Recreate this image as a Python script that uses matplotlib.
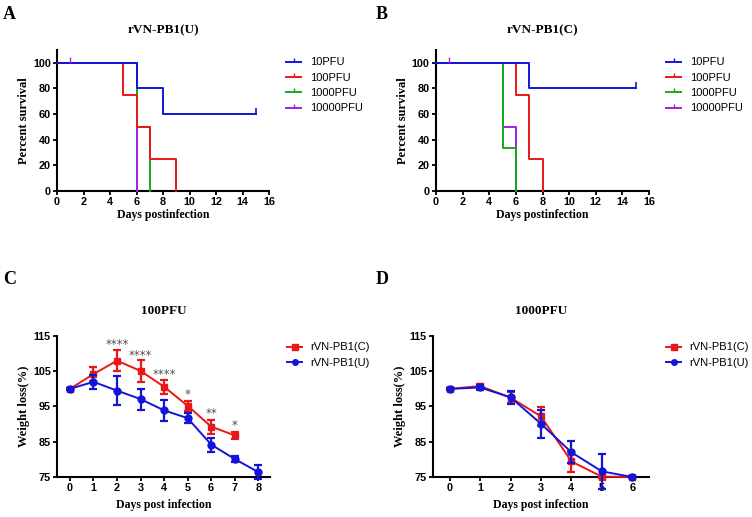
import matplotlib
matplotlib.use("Agg")
import matplotlib.pyplot as plt
from matplotlib.lines import Line2D
import numpy as np

# ---------------- Data ----------------
groups = ["10PFU", "100PFU", "1000PFU", "10000PFU"]
surv_colors = ["#1414d8", "#e81818", "#18a818", "#a020e0"]

# Panel A: rVN-PB1(U) step survival (time of step, value after step)
A_times = {
    "10PFU":    [0, 6, 8, 15],
    "100PFU":   [0, 5, 6, 7, 9],
    "1000PFU":  [0, 6, 7],
    "10000PFU": [0, 6],
}
A_vals = {
    "10PFU":    [100, 80, 60, 60],
    "100PFU":   [100, 75, 50, 25, 0],
    "1000PFU":  [100, 50, 0],
    "10000PFU": [100, 0],
}
# Panel B: rVN-PB1(C)
B_times = {
    "10PFU":    [0, 7, 15],
    "100PFU":   [0, 6, 7, 8],
    "1000PFU":  [0, 5, 6],
    "10000PFU": [0, 5, 6],
}
B_vals = {
    "10PFU":    [100, 80, 80],
    "100PFU":   [100, 75, 25, 0],
    "1000PFU":  [100, 33.3, 0],
    "10000PFU": [100, 50, 0],
}

# Panel C: 100PFU weight
C_days_C = [0, 1, 2, 3, 4, 5, 6, 7]
C_mean_C = [100, 104.2, 108.0, 105.1, 100.6, 95.2, 89.3, 86.8]
C_err_C = [0.3, 1.9, 3.0, 3.1, 2.0, 1.4, 2.0, 1.0]
C_days_U = [0, 1, 2, 3, 4, 5, 6, 7, 8]
C_mean_U = [100, 102.0, 99.5, 97.1, 93.9, 91.7, 84.2, 80.1, 76.4]
C_err_U = [0.3, 2.0, 4.1, 3.0, 3.0, 1.4, 2.0, 0.9, 2.0]
C_sig_days = [2, 3, 4, 5, 6, 7]
C_sig_labels = ["****", "****", "****", "*", "**", "*"]
C_sig_y = [112.6, 109.6, 104.0, 98.4, 92.9, 89.6]

# Panel D: 1000PFU weight
D_days_C = [0, 1, 2, 3, 4, 5, 6]
D_mean_C = [100, 100.8, 97.5, 92.2, 79.4, 75.1, 75.0]
D_err_C = [0.3, 0.7, 1.5, 2.7, 3.0, 0.3, 0.2]
D_days_U = [0, 1, 2, 3, 4, 5, 6]
D_mean_U = [100, 100.4, 97.6, 90.1, 82.0, 76.6, 75.0]
D_err_U = [0.3, 0.8, 1.9, 4.0, 3.1, 4.9, 0.2]

weight_labels = ["rVN-PB1(C)", "rVN-PB1(U)"]
weight_colors = ["#e81818", "#1414d8"]

# ---------------- Style ----------------
serif = ["Liberation Serif", "DejaVu Serif"]
sans = ["Liberation Sans", "DejaVu Sans"]

fig = plt.figure(figsize=(7.52, 5.17), dpi=100)
W, H = 752, 517

def ax_at(l, t, r, b):
    return fig.add_axes([l / W, 1 - b / H, (r - l) / W, (b - t) / H])

def style_axes(ax):
    for s in ["top", "right"]:
        ax.spines[s].set_visible(False)
    for s in ["left", "bottom"]:
        ax.spines[s].set_linewidth(1.5)
    ax.tick_params(direction="out", length=3, width=1.3, pad=1.5, labelsize=7.8)
    for lab in ax.get_xticklabels() + ax.get_yticklabels():
        lab.set_fontfamily(sans)
        lab.set_fontweight("bold")

def survival(ax, times, vals, title, legend_xy):
    order = list(range(len(groups)))[::-1]  # draw purple first, blue on top
    for i in order:
        g = groups[i]
        ax.step(times[g], vals[g], where="post", color=surv_colors[i],
                lw=1.4, zorder=2 + (len(groups) - i), clip_on=False)
    # censor ticks
    ax.plot([times["10PFU"][-1]], [vals["10PFU"][-1]], marker=2, ms=4,
            color=surv_colors[0], mew=1.2, clip_on=False, zorder=10)
    ax.plot([1], [100], marker=2, ms=4, color=surv_colors[3], mew=1.0,
            clip_on=False, zorder=10)
    ax.set_xlim(0, 16)
    ax.set_ylim(0, 110)
    ax.set_xticks(np.arange(0, 17, 2))
    ax.set_yticks(np.arange(0, 101, 20))
    style_axes(ax)
    ax.set_title(title, fontfamily=serif, fontweight="bold", fontsize=9.5, pad=12)
    ax.set_xlabel("Days postinfection", fontfamily=serif, fontweight="bold",
                  fontsize=8.5, labelpad=1)
    ax.set_ylabel("Percent survival", fontfamily=serif, fontweight="bold",
                  fontsize=9, labelpad=2)
    handles = [Line2D([0], [0], color=c, lw=1.4, marker=2, ms=3, mew=1.0)
               for c in surv_colors]
    ax.legend(handles, groups, loc="upper left",
              bbox_to_anchor=(legend_xy[0] / W, 1 - legend_xy[1] / H),
              bbox_transform=fig.transFigure, frameon=False,
              prop={"family": sans, "size": 8}, handlelength=1.3,
              handletextpad=0.8, labelspacing=0.48, borderaxespad=0)

def weight(ax, dC, mC, eC, dU, mU, eU, title, xmax, legend_xy):
    ax.errorbar(dC, mC, yerr=eC, color=weight_colors[0], marker="s", ms=5,
                lw=1.4, elinewidth=1.6, capsize=3, capthick=1.6,
                clip_on=False, zorder=3)
    ax.errorbar(dU, mU, yerr=eU, color=weight_colors[1], marker="o", ms=5,
                lw=1.4, elinewidth=1.6, capsize=3, capthick=1.6,
                clip_on=False, zorder=4)
    ax.set_xlim(-0.55, xmax)
    ax.set_ylim(75, 115)
    ax.set_yticks([75, 85, 95, 105, 115])
    ax.set_xticks(range(0, int(np.ceil(xmax))))
    style_axes(ax)
    ax.set_title(title, fontfamily=serif, fontweight="bold", fontsize=9.5, pad=16)
    ax.set_xlabel("Days post infection", fontfamily=serif, fontweight="bold",
                  fontsize=8.5, labelpad=4)
    ax.set_ylabel("Weight loss(%)", fontfamily=serif, fontweight="bold",
                  fontsize=9, labelpad=2)
    handles = [Line2D([0], [0], color=weight_colors[0], lw=1.4, marker="s", ms=4),
               Line2D([0], [0], color=weight_colors[1], lw=1.4, marker="o", ms=4)]
    ax.legend(handles, weight_labels, loc="upper left",
              bbox_to_anchor=(legend_xy[0] / W, 1 - legend_xy[1] / H),
              bbox_transform=fig.transFigure, frameon=False,
              prop={"family": sans, "size": 8}, handlelength=1.3,
              handletextpad=0.75, labelspacing=0.48, borderaxespad=0)

axA = ax_at(57, 50, 269, 191)
survival(axA, A_times, A_vals, "rVN-PB1(U)", (282, 53))
axB = ax_at(436, 50, 649, 191)
survival(axB, B_times, B_vals, "rVN-PB1(C)", (662, 53))

axC = ax_at(57, 336, 270, 477)
weight(axC, C_days_C, C_mean_C, C_err_C, C_days_U, C_mean_U, C_err_U,
       "100PFU", 8.5, (283, 338))
for d, lab, y in zip(C_sig_days, C_sig_labels, C_sig_y):
    axC.text(d, y, lab, ha="center", va="center", fontsize=8.5,
             color="#505050", fontfamily=["DejaVu Sans"])

axD = ax_at(433, 336, 649, 477)
weight(axD, D_days_C, D_mean_C, D_err_C, D_days_U, D_mean_U, D_err_U,
       "1000PFU", 6.55, (662, 338))

for letter, x, y in [("A", 3, 6), ("B", 376, 6), ("C", 3, 271), ("D", 376, 271)]:
    fig.text(x / W, 1 - y / H, letter, fontfamily=serif, fontweight="bold",
             fontsize=13, ha="left", va="top")

fig.savefig("out.png", dpi=100)
